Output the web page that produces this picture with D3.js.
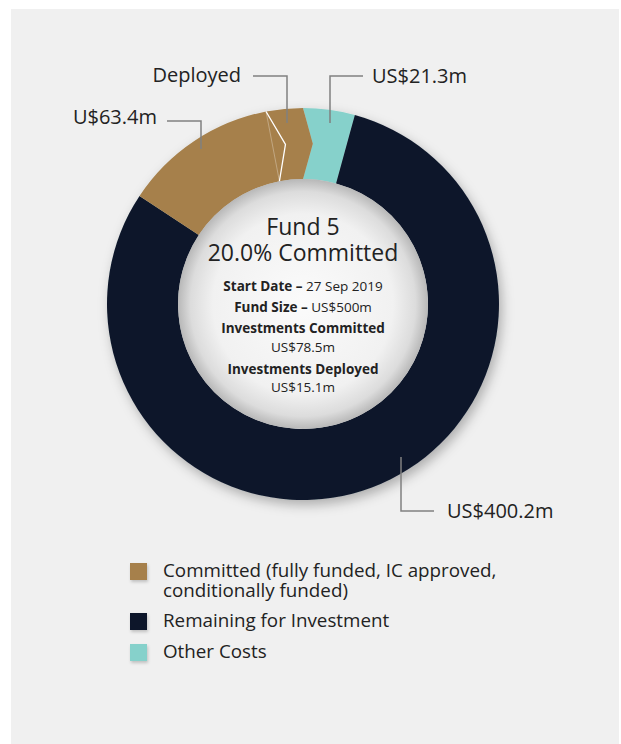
<!DOCTYPE html>
<html>
<head>
<meta charset="utf-8">
<script src="https://cdn.jsdelivr.net/npm/d3@7"></script>
<style>
  body { margin: 0; background: #fff; }
  svg { display: block; font-family: "Open Sans", sans-serif; }
</style>
</head>
<body>
<div id="viz"></div>
<script>
// chart data
var categories = ["Other Costs", "Remaining for Investment", "Committed", "Deployed"];
var values = [21.3, 400.2, 63.4, 15.1];
var sliceLabels = ["US$21.3m", "US$400.2m", "U$63.4m", "Deployed"];
var legendLabels = [["Committed (fully funded, IC approved,", "conditionally funded)"], ["Remaining for Investment"], ["Other Costs"]];
var legendColors = ["#a6804b", "#0c182b", "#86d1cb"];
var titleLines = ["Fund 5", "20.0% Committed"];
var detailLines = [
  ["Start Date \u2013 ", "27 Sep 2019"],
  ["Fund Size \u2013 ", "US$500m"],
  ["Investments Committed", ""],
  ["", "US$78.5m"],
  ["Investments Deployed", ""],
  ["", "US$15.1m"]
];

var W = 621, H = 744;
var cx = 303, cy = 304;
var rOut = 196, rIn = 125, rMid = (rOut + rIn) / 2;
var colors = {"Other Costs": "#86d1cb", "Remaining for Investment": "#0c182b", "Committed": "#a6804b", "Deployed": "#a6804b"};
var deg = Math.PI / 180;
var notch = {"Other Costs": [3.5, 0], "Remaining for Investment": [0, 0], "Committed": [0, 4.6], "Deployed": [4.6, 3.5]};

var svg = d3.select("#viz").append("svg").attr("width", W).attr("height", H);

var defs = svg.append("defs");
var f = defs.append("filter").attr("id", "shadow").attr("x", "-20%").attr("y", "-20%").attr("width", "140%").attr("height", "140%");
f.append("feDropShadow").attr("dx", 3).attr("dy", 5).attr("stdDeviation", 6).attr("flood-color", "#000").attr("flood-opacity", 0.28);
var fs = defs.append("filter").attr("id", "sqshadow").attr("x", "-50%").attr("y", "-50%").attr("width", "200%").attr("height", "200%");
fs.append("feDropShadow").attr("dx", 1).attr("dy", 2).attr("stdDeviation", 1.5).attr("flood-color", "#000").attr("flood-opacity", 0.2);
var rg = defs.append("radialGradient").attr("id", "inner");
rg.append("stop").attr("offset", "0%").attr("stop-color", "#fbfbfb");
rg.append("stop").attr("offset", "72%").attr("stop-color", "#f1f1f1");
rg.append("stop").attr("offset", "90%").attr("stop-color", "#dcdcdc");
rg.append("stop").attr("offset", "100%").attr("stop-color", "#b8b8b8");

// panel
svg.append("rect").attr("x", 11).attr("y", 9).attr("width", 608).attr("height", H - 9).attr("fill", "#f0f0f0");

var pie = d3.pie().sort(null).value(function(d, i) { return values[i]; });
var arcs = pie(categories);

function pt(a, r) { return [Math.sin(a) * r, -Math.cos(a) * r]; }

// arc with optional chevron ends
function chevronArc(a0, a1, n0, n1) {
  var p = d3.path();
  var s = pt(a0, rOut);
  p.moveTo(s[0], s[1]);
  p.arc(0, 0, rOut, a0 - Math.PI / 2, a1 - Math.PI / 2, false);
  var m1 = pt(a1 + n1 * deg, rMid), e1 = pt(a1, rIn);
  p.lineTo(m1[0], m1[1]);
  p.lineTo(e1[0], e1[1]);
  p.arc(0, 0, rIn, a1 - Math.PI / 2, a0 - Math.PI / 2, true);
  var m0 = pt(a0 + n0 * deg, rMid);
  p.lineTo(m0[0], m0[1]);
  p.closePath();
  return p.toString();
}

var g = svg.append("g").attr("transform", "translate(" + cx + "," + cy + ")");
var ring = g.append("g").attr("filter", "url(#shadow)");
ring.selectAll("path.slice").data(arcs).enter().append("path")
  .attr("class", "slice")
  .attr("d", function(d) { return chevronArc(d.startAngle, d.endAngle, notch[d.data][0], notch[d.data][1]); })
  .attr("fill", function(d) { return colors[d.data]; });

// white divider between committed and deployed
var bd = arcs[3].startAngle;
g.append("line")
  .attr("x1", pt(bd, rOut)[0]).attr("y1", pt(bd, rOut)[1])
  .attr("x2", pt(bd, rIn)[0]).attr("y2", pt(bd, rIn)[1])
  .attr("stroke", "#fff").attr("stroke-opacity", 0.3).attr("stroke-width", 1);
g.append("path")
  .attr("d", d3.line()([pt(bd, rOut), pt(bd + 4.6 * deg, rMid), pt(bd, rIn)]))
  .attr("fill", "none").attr("stroke", "#fff").attr("stroke-width", 1.3);

// centre disc
g.append("circle").attr("r", rIn).attr("fill", "url(#inner)");

// centre text
g.selectAll("text.title").data(titleLines).enter().append("text")
  .attr("class", "title")
  .attr("x", 0).attr("y", function(d, i) { return -69 + i * 26; })
  .attr("text-anchor", "middle").attr("font-size", 23).attr("fill", "#222")
  .text(function(d) { return d; });

var detY = [-13, 8, 29, 48, 70, 88];
var dt = g.selectAll("text.det").data(detailLines).enter().append("text")
  .attr("class", "det")
  .attr("x", 0).attr("y", function(d, i) { return detY[i]; })
  .attr("text-anchor", "middle").attr("font-size", 13.5).attr("fill", "#222");
dt.append("tspan").attr("font-weight", 700).text(function(d) { return d[0]; });
dt.append("tspan").text(function(d) { return d[1]; });

// leader lines and slice labels
var leaders = [
  {i: 0, pts: [[363, 76], [330, 76], [330, 123]], tx: 372, ty: 83, anchor: "start"},
  {i: 1, pts: [[401, 457], [401, 511], [434, 511]], tx: 447, ty: 518, anchor: "start"},
  {i: 2, pts: [[167, 121], [201, 121], [201, 149]], tx: 157, ty: 124, anchor: "end"},
  {i: 3, pts: [[253, 76], [287, 76], [287, 123]], tx: 241, ty: 82, anchor: "end"}
];
svg.selectAll("path.leader").data(leaders).enter().append("path")
  .attr("class", "leader")
  .attr("d", function(d) { return d3.line()(d.pts); })
  .attr("fill", "none").attr("stroke", "#808080").attr("stroke-width", 1.5);
svg.selectAll("text.lab").data(leaders).enter().append("text")
  .attr("class", "lab")
  .attr("x", function(d) { return d.tx; }).attr("y", function(d) { return d.ty; })
  .attr("text-anchor", function(d) { return d.anchor; })
  .attr("font-size", 20).attr("fill", "#222")
  .text(function(d) { return sliceLabels[d.i]; });

// legend
var legY = [563, 613, 644];
var lg = svg.selectAll("g.leg").data(legendLabels).enter().append("g")
  .attr("class", "leg")
  .attr("transform", function(d, i) { return "translate(130," + legY[i] + ")"; });
lg.append("rect").attr("width", 17).attr("height", 17)
  .attr("fill", function(d, i) { return legendColors[i]; })
  .attr("filter", "url(#sqshadow)");
lg.selectAll("text").data(function(d) { return d; }).enter().append("text")
  .attr("x", 33).attr("y", function(d, j) { return 14 + j * 20; })
  .attr("font-size", 18.8).attr("fill", "#222")
  .text(function(d) { return d; });
</script>
</body>
</html>
